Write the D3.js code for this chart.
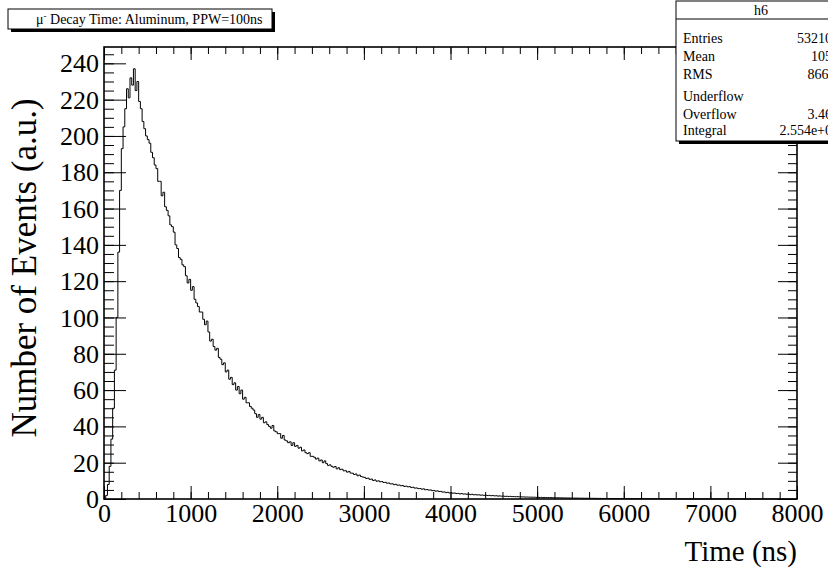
<!DOCTYPE html>
<html>
<head>
<meta charset="utf-8">
<script src="https://cdn.jsdelivr.net/npm/d3@7/dist/d3.min.js"></script>
<style>
body { margin: 0; background: #fff; }
text { font-family: "Liberation Serif", "DejaVu Serif", serif; fill: #000; }
</style>
</head>
<body>
<svg id="hist" width="828" height="570"></svg>
<script>
// histogram h6: 20 ns bins from 0 to 8000 ns
var binWidth = 20;
var counts = [
  0.5, 2, 8, 18, 33, 50, 71, 100, 136, 170,
  193, 205, 215, 226, 221, 232, 228, 237, 225, 230,
  219, 215, 208, 204, 200, 198, 196, 191, 188, 184,
  182, 175, 175, 167, 169, 161, 159, 156, 151, 150,
  147, 140, 138, 133, 132, 129, 128, 123, 119, 121,
  115, 117, 110, 108, 106, 103, 103, 99, 96, 98,
  92, 87, 88, 84, 82, 83, 78, 77, 74, 75,
  70, 71, 66, 67, 63, 64, 60, 62, 58, 60,
  55, 56, 53, 53, 51, 50, 49, 47, 45, 46.5,
  44, 45, 42, 42.5, 41, 40, 39, 40.5, 37.5, 37,
  36, 36, 33.5, 35, 32.5, 32, 31, 31.5, 29.5, 31,
  29, 29.5, 28, 28.5, 26.5, 27, 25.5, 25, 25.5, 23.5,
  23.5, 23, 22, 22.5, 21, 21.5, 20, 21, 19.5, 18.5,
  18.8, 18, 17.5, 17.9, 16.6, 17.2, 16.2, 16.4, 15.5, 15.6,
  14.8, 15.2, 14.3, 14.2, 13.5, 13.8, 12.8, 13.2, 12.4, 12.1,
  11.9, 11.3, 11.5, 10.8, 11, 10.2, 10.5, 9.8, 10, 9.5,
  9.6, 9.1, 9.2, 8.7, 8.8, 8.3, 8.4, 7.9, 8.1, 7.6,
  7.7, 7.3, 7.4, 6.9, 7.1, 6.7, 6.8, 6.3, 6.5, 6.0,
  6.1, 5.7, 5.8, 5.4, 5.6, 5.1, 5.2, 4.9, 5.0, 4.6,
  4.7, 4.3, 4.5, 4.1, 4.2, 3.8, 3.9, 3.5, 3.7, 3.3,
  3.4, 3.2, 3.3, 3.0, 3.1, 2.8, 3.0, 2.7, 2.8, 2.6,
  2.7, 2.4, 2.6, 2.3, 2.4, 2.2, 2.3, 2.1, 2.2, 2.0,
  2.1, 1.9, 2.0, 1.8, 1.9, 1.7, 1.8, 1.6, 1.7, 1.55,
  1.6, 1.45, 1.5, 1.4, 1.45, 1.3, 1.35, 1.25, 1.3, 1.2,
  1.25, 1.1, 1.15, 1.05, 1.1, 1.0, 1.05, 0.95, 1.0, 0.9,
  0.95, 0.85, 0.9, 0.8, 0.85, 0.75, 0.8, 0.72, 0.75, 0.68,
  0.7, 0.64, 0.68, 0.6, 0.63, 0.56, 0.6, 0.53, 0.56, 0.5,
  0.53, 0.48, 0.5, 0.45, 0.47, 0.42, 0.45, 0.4, 0.42, 0.38,
  0.4, 0.36, 0.38, 0.34, 0.36, 0.32, 0.33, 0.3, 0.32, 0.28,
  0.3, 0.27, 0.28, 0.25, 0.27, 0.24, 0.25, 0.22, 0.23, 0.21,
  0.22, 0.2, 0.21, 0.19, 0.2, 0.18, 0.18, 0.17, 0.17, 0.16,
  0.16, 0.15, 0.15, 0.14, 0.14, 0.13, 0.13, 0.12, 0.12, 0.11,
  0.11, 0.11, 0.1, 0.1, 0.1, 0.09, 0.09, 0.09, 0.08, 0.08,
  0.08, 0.08, 0.07, 0.07, 0.07, 0.07, 0.06, 0.06, 0.06, 0.06,
  0.06, 0.05, 0.05, 0.05, 0.05, 0.05, 0.05, 0.04, 0.04, 0.04,
  0.04, 0.04, 0.04, 0.04, 0.04, 0.03, 0.03, 0.03, 0.03, 0.03,
  0.03, 0.03, 0.03, 0.03, 0.03, 0.03, 0.03, 0.03, 0.03, 0.03,
  0.03, 0.03, 0.02, 0.02, 0.02, 0.02, 0.02, 0.02, 0.02, 0.02,
  0.02, 0.02, 0.02, 0.02, 0.02, 0.02, 0.02, 0.02, 0.02, 0.02,
  0.02, 0.02, 0.02, 0.02, 0.02, 0.02, 0.02, 0.02, 0.02, 0.02
];
var xTicks = [0, 1000, 2000, 3000, 4000, 5000, 6000, 7000, 8000];
var yTicks = [0, 20, 40, 60, 80, 100, 120, 140, 160, 180, 200, 220, 240];
var titleText = "Decay Time: Aluminum, PPW=100ns";
var statNames = ["Entries", "Mean", "RMS", "Underflow", "Overflow", "Integral"];
var statValues = ["532106", "1055", "866.6", "0", "3.463", "2.554e+05"];

var svg = d3.select("svg#hist");
var margin = {left: 104, right: 31, top: 47, bottom: 71};
var width = 828 - margin.left - margin.right,
    height = 570 - margin.top - margin.bottom;

svg.append("rect").attr("width", 828).attr("height", 570).attr("fill", "#fff");

var x = d3.scaleLinear().domain([0, 8000]).range([0, width]);
var y = d3.scaleLinear().domain([0, 249]).range([height, 0]);

var g = svg.append("g")
    .attr("transform", "translate(" + margin.left + "," + margin.top + ")");

// step outline of the histogram
var pts = counts.map(function(c, i) { return [i * binWidth, c]; });
pts.push([counts.length * binWidth, counts[counts.length - 1]]);
var line = d3.line()
    .x(function(d) { return x(d[0]); })
    .y(function(d) { return y(d[1]); })
    .curve(d3.curveStepAfter);
g.append("path")
    .datum(pts)
    .attr("d", line)
    .attr("fill", "none")
    .attr("stroke", "#000")
    .attr("stroke-width", 1);

// axes, ROOT style: ticks inside on all four sides
var xMinor = d3.range(0, 8001, 200);
var yMinor = d3.range(0, 246, 5);

g.append("g").attr("transform", "translate(0," + height + ")")
    .call(d3.axisBottom(x).tickValues(xMinor).tickSize(-7).tickFormat(""));
var xAxis = g.append("g").attr("transform", "translate(0," + height + ")")
    .call(d3.axisBottom(x).tickValues(xTicks).tickSize(-13).tickFormat(d3.format("d")));
g.append("g")
    .call(d3.axisTop(x).tickValues(xMinor).tickSize(-7).tickFormat(""));
g.append("g")
    .call(d3.axisTop(x).tickValues(xTicks).tickSize(-13).tickFormat(""));
g.append("g")
    .call(d3.axisLeft(y).tickValues(yMinor).tickSize(-10).tickFormat(""));
var yAxis = g.append("g")
    .call(d3.axisLeft(y).tickValues(yTicks).tickSize(-22));
g.append("g").attr("transform", "translate(" + width + ",0)")
    .call(d3.axisRight(y).tickValues(yMinor).tickSize(-9).tickFormat(""));
g.append("g").attr("transform", "translate(" + width + ",0)")
    .call(d3.axisRight(y).tickValues(yTicks).tickSize(-19).tickFormat(""));

g.selectAll(".domain").remove();
g.selectAll(".tick line").attr("stroke", "#000").attr("stroke-width", 1);
g.selectAll(".tick text")
    .style("font-family", "'Liberation Serif', serif")
    .style("font-size", "26px");
xAxis.selectAll(".tick text").attr("y", 23).attr("dy", 0);
yAxis.selectAll(".tick text").attr("x", -5).attr("dy", "0.33em");

// frame
g.append("rect")
    .attr("width", width).attr("height", height)
    .attr("fill", "none").attr("stroke", "#000").attr("stroke-width", 1.6);

// axis titles
svg.append("text")
    .attr("x", 797).attr("y", 561)
    .attr("text-anchor", "end")
    .attr("font-size", "29px")
    .text("Time (ns)");
svg.append("text")
    .attr("transform", "translate(36,268)rotate(-90)")
    .attr("text-anchor", "middle")
    .attr("font-size", "35px")
    .text("Number of Events (a.u.)");

// title pave with shadow
var tb = svg.append("g");
tb.append("rect").attr("x", 11).attr("y", 12).attr("width", 264).attr("height", 20).attr("fill", "#000");
tb.append("rect").attr("x", 8).attr("y", 9).attr("width", 264).attr("height", 20)
    .attr("fill", "#fff").attr("stroke", "#000").attr("stroke-width", 1);
var tt = tb.append("text").attr("x", 36).attr("y", 24).attr("font-size", "14px");
tt.append("tspan").text("\u03bc");
tt.append("tspan").attr("dy", -5).attr("font-size", "9px").text("-");
tt.append("tspan").attr("dy", 5).text(" " + titleText);

// stats pave
var sb = svg.append("g");
sb.append("rect").attr("x", 679).attr("y", 4).attr("width", 170).attr("height", 140).attr("fill", "#000");
sb.append("rect").attr("x", 676).attr("y", 1).attr("width", 170).attr("height", 140)
    .attr("fill", "#fff").attr("stroke", "#000").attr("stroke-width", 1);
sb.append("line").attr("x1", 676).attr("x2", 846).attr("y1", 19).attr("y2", 19).attr("stroke", "#000");
sb.append("text").attr("x", 761).attr("y", 15).attr("text-anchor", "middle").attr("font-size", "14px").text("h6");
var rowY = [43, 61, 79, 101, 119, 135];
sb.selectAll("text.name")
    .data(statNames)
    .enter()
    .append("text")
    .attr("class", "name")
    .attr("x", 683)
    .attr("y", function(d, i) { return rowY[i]; })
    .attr("font-size", "14px")
    .text(function(d) { return d; });
sb.selectAll("text.val")
    .data(statValues)
    .enter()
    .append("text")
    .attr("class", "val")
    .attr("x", 839)
    .attr("y", function(d, i) { return rowY[i]; })
    .attr("text-anchor", "end")
    .attr("font-size", "14px")
    .text(function(d) { return d; });
</script>
</body>
</html>
